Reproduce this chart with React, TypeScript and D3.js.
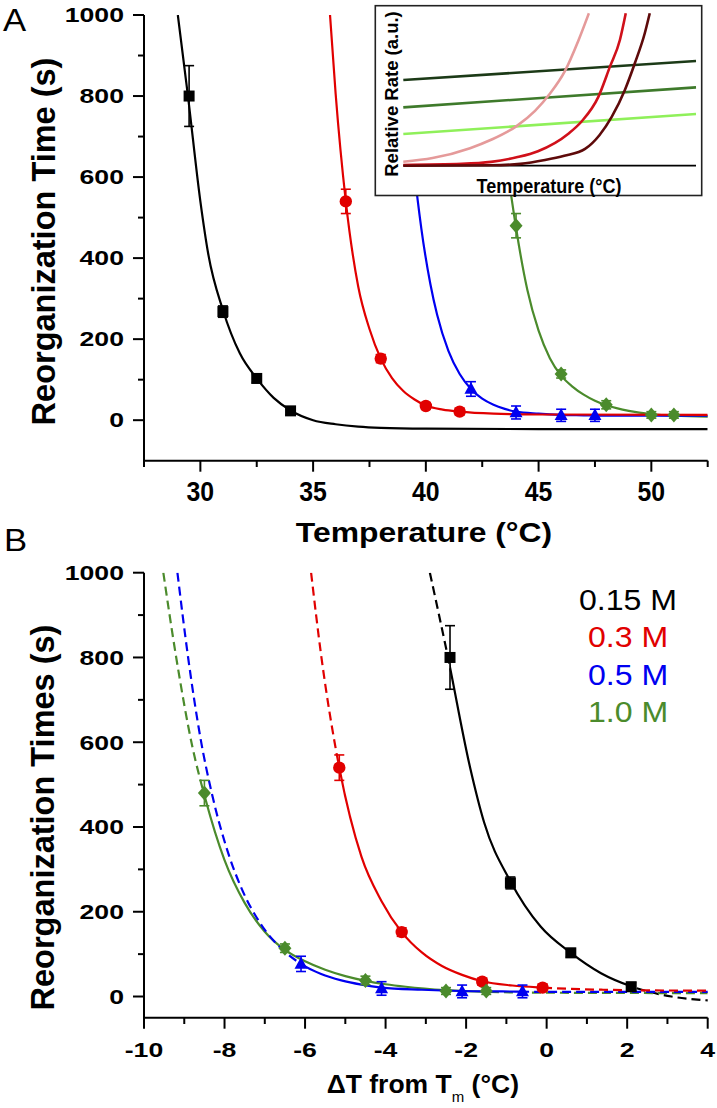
import React from 'react';
import * as d3 from 'd3';

// ---------- Panel A / B measured points (temperature °C, time s, error s) ----------
const blackT = [29.5, 31, 32.5, 34];
const blackTime = [800, 268, 103, 23];
const blackErr = [75, 14, 10, 10];

const redT = [36.45, 38, 40, 41.5];
const redTime = [540, 152, 35, 21];
const redErr = [30, 10, 8, 8];

const blueT = [42, 44, 46, 47.5];
const blueTime = [77, 19, 12, 12];
const blueErr = [18, 16, 15, 15];

const greenT = [44, 46, 48, 50, 51];
const greenTime = [480, 114, 38, 13, 13];
const greenErr = [30, 10, 10, 8, 8];

// melting temperatures used for panel B (ΔT = T - Tm)
const tmValues = [31.9, 41.6, 48.1, 52.5];
const legendLabels = ['0.15 M', '0.3 M', '0.5 M', '1.0 M'];

// ---------- fitted curves (T, time) ----------
const blackCurveT = [29.0, 29.45, 30.0, 30.35, 31.0, 31.75, 32.5, 33.25, 34.0, 35.0, 36.0, 37.0, 38.0, 40.0, 45.0, 52.5];
const blackCurveV = [1000, 800, 540, 410, 272, 165, 103, 55, 24, 0, -10, -16, -19, -21, -22, -22];

const redCurveT = [35.75, 36.0, 36.45, 37.0, 37.5, 38.0, 38.5, 39.0, 39.5, 40.0, 40.75, 41.5, 43.0, 45.0, 52.5];
const redCurveV = [1000, 805, 540, 330, 225, 152, 104, 72, 51, 36, 26, 21, 16, 14, 13];

const blueCurveT = [38.93, 39.2, 39.5, 39.8, 40.2, 40.5, 41.0, 41.5, 42.0, 42.5, 43.0, 43.5, 44.0, 45.0, 46.0, 47.0, 48.0, 52.5];
const blueCurveV = [1000, 797, 611, 473, 336, 260, 171, 114, 77, 53, 38, 28, 21, 16, 13, 12, 11, 11];

const greenCurveT = [42.98, 43.3, 43.7, 44.0, 44.5, 45.0, 45.5, 46.0, 46.5, 47.0, 47.5, 48.0, 48.5, 49.0, 50.0, 51.0, 52.5, 56.5];
const greenCurveV = [1000, 800, 590, 475, 322, 221, 153, 110, 83, 63, 48, 37, 29, 23, 15, 11, 9, 8];

// ---------- inset schematic (arbitrary units 0..10) ----------
const pinkX = [0, 1, 2.28, 3, 3.87, 4.5, 5.0, 5.52, 5.98, 6.34];
const pinkY = [0.26, 0.5, 1.15, 1.7, 2.6, 3.6, 4.7, 6.2, 8.2, 10];
const redRateX = [0, 2, 3, 3.87, 4.6, 5.64, 6.09, 6.66, 7.06, 7.4, 7.6];
const redRateY = [0.05, 0.12, 0.25, 0.55, 0.95, 2.1, 2.9, 4.5, 6.5, 8.25, 10];
const darkRedX = [0, 3, 4, 4.84, 5.5, 6.21, 6.7, 7.12, 7.57, 7.91, 8.25, 8.42];
const darkRedY = [0, 0.03, 0.12, 0.37, 0.65, 1.1, 2.0, 3.2, 4.97, 6.72, 8.69, 10];
const greenLineX = [0, 10];
const darkGreenY = [5.62, 6.87];
const midGreenY = [3.83, 5.14];
const lightGreenY = [2.08, 3.39];

// ---------- ticks ----------
const aYTicks = [0, 200, 400, 600, 800, 1000];
const aYMinor = [100, 300, 500, 700, 900];
const aXTicks = [30, 35, 40, 45, 50];
const aXMinor = [27.5, 32.5, 37.5, 42.5, 47.5, 52.5];
const bYTicks = [0, 200, 400, 600, 800, 1000];
const bYMinor = [100, 300, 500, 700, 900];
const bXTicks = [-10, -8, -6, -4, -2, 0, 2, 4];
const bXMinor = [-9, -7, -5, -3, -1, 1, 3];

const FONT = '"Liberation Sans", Arial, Helvetica, sans-serif';
const COLORS = ['#000000', '#e10000', '#0000f0', '#4b8b2c'];
const SHAPES = ['square', 'circle', 'triangle', 'diamond'];

type Pt = [number, number];

function zip(a: number[], b: number[]): Pt[] {
  return a.map((v, i) => [v, b[i]] as Pt);
}

function Label(props: any) {
  const { x, y, size, weight = 'bold', sx = 1, anchor = 'middle', rotate = 0, fill = '#000', children } = props;
  return (
    <text
      transform={`translate(${x},${y}) rotate(${rotate}) scale(${sx},1)`}
      fontSize={size}
      fontWeight={weight}
      textAnchor={anchor}
      fill={fill}
      fontFamily={FONT}
    >
      {children}
    </text>
  );
}

function Marker({ shape, x, y, color }: { shape: string; x: number; y: number; color: string }) {
  if (shape === 'square') return <rect x={x - 5.5} y={y - 5.5} width={11} height={11} fill={color} />;
  if (shape === 'circle') return <circle cx={x} cy={y} r={6.2} fill={color} />;
  if (shape === 'triangle')
    return <path d={`M${x},${y - 7} L${x + 6.5},${y + 4.8} L${x - 6.5},${y + 4.8}Z`} fill={color} />;
  return <path d={`M${x},${y - 7.5} L${x + 6.5},${y} L${x},${y + 7.5} L${x - 6.5},${y}Z`} fill={color} />;
}

function ErrorBar({ x, y0, y1, color }: { x: number; y0: number; y1: number; color: string }) {
  return (
    <g stroke={color} strokeWidth={1.6}>
      <line x1={x} x2={x} y1={y0} y2={y1} />
      <line x1={x - 5} x2={x + 5} y1={y0} y2={y0} />
      <line x1={x - 5} x2={x + 5} y1={y1} y2={y1} />
    </g>
  );
}

export default function App() {
  const xA = d3.scaleLinear().domain([27.5, 52.5]).range([144, 707.7]);
  const yA = d3.scaleLinear().domain([-100, 1000]).range([460.7, 15]);
  const xB = d3.scaleLinear().domain([-10, 4]).range([144, 707.7]);
  const yB = d3.scaleLinear().domain([-50, 1000]).range([1017.7, 572.7]);
  const xI = d3.scaleLinear().domain([0, 10]).range([403.3, 696]);
  const yI = d3.scaleLinear().domain([0, 10]).range([165.7, 13.3]);

  const series = [
    { T: blackT, v: blackTime, e: blackErr, cT: blackCurveT, cV: blackCurveV },
    { T: redT, v: redTime, e: redErr, cT: redCurveT, cV: redCurveV },
    { T: blueT, v: blueTime, e: blueErr, cT: blueCurveT, cV: blueCurveV },
    { T: greenT, v: greenTime, e: greenErr, cT: greenCurveT, cV: greenCurveV },
  ].map((s, i) => ({ ...s, color: COLORS[i], shape: SHAPES[i], tm: tmValues[i], label: legendLabels[i] }));

  const lineA = d3
    .line<Pt>()
    .x((d) => xA(d[0]))
    .y((d) => yA(d[1]))
    .curve(d3.curveMonotoneX);
  const lineB = d3
    .line<Pt>()
    .x((d) => xB(d[0]))
    .y((d) => yB(d[1]))
    .curve(d3.curveMonotoneX);
  const lineI = d3
    .line<Pt>()
    .x((d) => xI(d[0]))
    .y((d) => yI(d[1]))
    .curve(d3.curveMonotoneX);

  const drawOrder = [0, 3, 2, 1];

  const insetCurves = [
    { pts: zip(greenLineX, darkGreenY), color: '#1c3a17' },
    { pts: zip(greenLineX, midGreenY), color: '#3e7a2b' },
    { pts: zip(greenLineX, lightGreenY), color: '#8ff05a' },
    { pts: zip(pinkX, pinkY), color: '#e59a9a' },
    { pts: zip(redRateX, redRateY), color: '#d0101a' },
    { pts: zip(darkRedX, darkRedY), color: '#5e0a0a' },
  ];

  return (
    <svg
      width={717}
      height={1108}
      style={{ position: 'absolute', left: 0, top: 0, background: '#fff' }}
      fontFamily={FONT}
    >
      <defs>
        <clipPath id="clipA">
          <rect x={144} y={15} width={563.7} height={445.7} />
        </clipPath>
        <clipPath id="clipB">
          <rect x={144} y={572.7} width={563.7} height={445} />
        </clipPath>
        {series.map((s, i) => {
          const dT0 = s.T[0] - s.tm;
          const dT1 = s.T[s.T.length - 1] - s.tm;
          return (
            <React.Fragment key={i}>
              <clipPath id={`pre${i}`}>
                <rect x={144} y={572.7} width={xB(dT0) - 144} height={445} />
              </clipPath>
              <clipPath id={`mid${i}`}>
                <rect x={xB(dT0)} y={572.7} width={xB(dT1) - xB(dT0)} height={445} />
              </clipPath>
              <clipPath id={`post${i}`}>
                <rect x={xB(dT1)} y={572.7} width={707.7 - xB(dT1)} height={445} />
              </clipPath>
            </React.Fragment>
          );
        })}
      </defs>

      {/* ================= PANEL A ================= */}
      <Label x={3} y={30.7} size={31} weight="normal" sx={1.12} anchor="start">A</Label>

      <g clipPath="url(#clipA)" fill="none" strokeWidth={2.2}>
        {drawOrder.map((i) => {
          const s = series[i];
          return <path key={i} d={lineA(zip(s.cT, s.cV)) || ''} stroke={s.color} />;
        })}
      </g>

      {/* axes A */}
      <g stroke="#000" strokeWidth={2}>
        <line x1={144} x2={144} y1={15} y2={460.7} />
        <line x1={143} x2={707.7} y1={460.7} y2={460.7} />
        {aYTicks.map((t) => (
          <line key={t} x1={133} x2={144} y1={yA(t)} y2={yA(t)} />
        ))}
        {aYMinor.map((t) => (
          <line key={t} x1={138} x2={144} y1={yA(t)} y2={yA(t)} />
        ))}
        {aXTicks.map((t) => (
          <line key={t} x1={xA(t)} x2={xA(t)} y1={460.7} y2={471.7} />
        ))}
        {aXMinor.map((t) => (
          <line key={t} x1={xA(t)} x2={xA(t)} y1={460.7} y2={467} />
        ))}
      </g>
      {aYTicks.map((t) => (
        <Label key={t} x={124} y={yA(t) + 7.3} size={20.5} sx={1.3} anchor="end">
          {String(t)}
        </Label>
      ))}
      {aXTicks.map((t) => (
        <Label key={t} x={xA(t)} y={500.5} size={27} sx={0.92}>
          {String(t)}
        </Label>
      ))}
      <Label x={424} y={541.7} size={27} sx={1.18}>Temperature (°C)</Label>
      <Label x={55} y={241.5} size={32.5} rotate={-90}>Reorganization Time (s)</Label>

      {/* inset */}
      <g>
        <rect x={375.3} y={5.7} width={326.4} height={189.8} fill="#fff" stroke="#222" strokeWidth={1.6} />
        <line x1={403.3} x2={696} y1={165.7} y2={165.7} stroke="#000" strokeWidth={1.8} />
        <g fill="none" strokeWidth={2.6}>
          {insetCurves.map((c, i) => (
            <path key={i} d={lineI(c.pts) || ''} stroke={c.color} />
          ))}
        </g>
        <Label x={398} y={94} size={18.5} rotate={-90}>Relative Rate (a.u.)</Label>
        <Label x={549} y={192.5} size={20} sx={0.9}>Temperature (°C)</Label>
      </g>

      {/* markers A */}
      {series.map((s, i) => (
        <g key={i}>
          {s.T.map((t, j) => (
            <g key={j}>
              <ErrorBar x={xA(t)} y0={yA(s.v[j] + s.e[j])} y1={yA(s.v[j] - s.e[j])} color={s.color} />
              <Marker shape={s.shape} x={xA(t)} y={yA(s.v[j])} color={s.color} />
            </g>
          ))}
        </g>
      ))}

      {/* ================= PANEL B ================= */}
      <Label x={4} y={551} size={31} weight="normal" sx={1.12} anchor="start">B</Label>

      <g clipPath="url(#clipB)">
        {drawOrder.map((i) => {
          const s = series[i];
          const pts = zip(
            s.cT.map((t) => t - s.tm),
            s.cV
          );
          const d = lineB(pts) || '';
          return (
            <g key={i} fill="none" stroke={s.color} strokeWidth={2.2}>
              <path d={d} clipPath={`url(#pre${i})`} strokeDasharray="9,5" />
              <path d={d} clipPath={`url(#mid${i})`} />
              <path d={d} clipPath={`url(#post${i})`} strokeDasharray="9,5" />
            </g>
          );
        })}
      </g>

      {/* axes B */}
      <g stroke="#000" strokeWidth={2}>
        <line x1={144} x2={144} y1={572.7} y2={1017.7} />
        <line x1={143} x2={707.7} y1={1017.7} y2={1017.7} />
        {bYTicks.map((t) => (
          <line key={t} x1={133} x2={144} y1={yB(t)} y2={yB(t)} />
        ))}
        {bYMinor.map((t) => (
          <line key={t} x1={138} x2={144} y1={yB(t)} y2={yB(t)} />
        ))}
        {bXTicks.map((t) => (
          <line key={t} x1={xB(t)} x2={xB(t)} y1={1017.7} y2={1028.7} />
        ))}
        {bXMinor.map((t) => (
          <line key={t} x1={xB(t)} x2={xB(t)} y1={1017.7} y2={1024} />
        ))}
      </g>
      {bYTicks.map((t) => (
        <Label key={t} x={124} y={yB(t) + 7.3} size={20.5} sx={1.3} anchor="end">
          {String(t)}
        </Label>
      ))}
      {bXTicks.map((t) => (
        <Label key={t} x={xB(t)} y={1057.3} size={20.5} sx={1.3}>
          {String(t)}
        </Label>
      ))}
      <text x={326.7} y={1093} fontSize={26.5} fontWeight="bold" fontFamily={FONT} fill="#000">
        <tspan>ΔT from T</tspan>
        <tspan dy={9} fontSize={15} fontWeight="normal">m</tspan>
        <tspan dy={-9}> (°C)</tspan>
      </text>
      <Label x={54} y={817.5} size={32.5} rotate={-90}>Reorganization Times (s)</Label>

      {/* markers B */}
      {series.map((s, i) => (
        <g key={i}>
          {s.T.map((t, j) => (
            <g key={j}>
              <ErrorBar x={xB(t - s.tm)} y0={yB(s.v[j] + s.e[j])} y1={yB(s.v[j] - s.e[j])} color={s.color} />
              <Marker shape={s.shape} x={xB(t - s.tm)} y={yB(s.v[j])} color={s.color} />
            </g>
          ))}
        </g>
      ))}

      {/* legend */}
      {series.map((s, i) => (
        <Label key={i} x={628} y={610 + i * 37.4} size={29.7} weight="normal" sx={1.08} fill={s.color}>
          {s.label}
        </Label>
      ))}
    </svg>
  );
}
